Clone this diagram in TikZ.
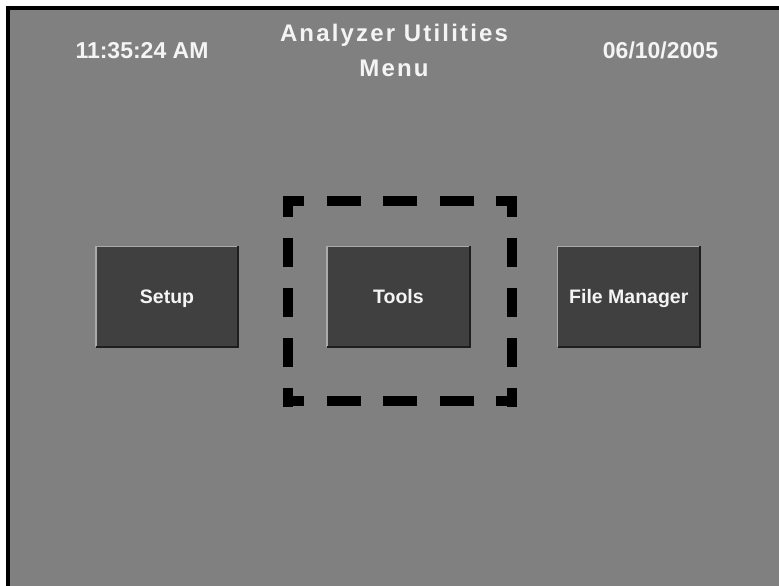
\documentclass[tikz,border=0pt]{standalone}
\usepackage{fontspec}
\setmainfont{Liberation Sans}
\newfontfamily\titlefont[LetterSpace=9]{Liberation Sans}
\usetikzlibrary{positioning}

\definecolor{screen}{HTML}{808080}
\definecolor{btnface}{HTML}{404040}
\definecolor{btnlight}{HTML}{ABABAB}
\definecolor{btndark}{HTML}{1E1E1E}
\definecolor{label}{HTML}{F4F4F4}

\begin{document}
\begin{tikzpicture}[x=1pt, y=-1pt, node distance=89pt,
  btn/.style={fill=btnface, minimum width=142pt, minimum height=100pt, inner sep=0pt,
    text=label, text height=14pt, text depth=1pt, font=\fontsize{19.5}{22}\selectfont\bfseries},
  clock/.style={text=label, anchor=base, inner sep=0pt, font=\fontsize{23}{26}\selectfont\bfseries},
  hrun/.style={line width=10pt, dash pattern=on 34pt off 22.6pt, dash phase=13pt},
  vrun/.style={line width=10pt, dash pattern=on 29.3pt off 20.7pt, dash phase=8.3pt}]
% screen frame
\fill[white] (0,0) rectangle (779,586);
\fill[black] (6,6) rectangle (779,586);
\fill[screen] (10,10) rectangle (779,586);
\useasboundingbox (0,0) rectangle (779,586);

% header
\node[clock] (time) at (142,59) {11:35:24 AM};
\node[clock] (date) at (660.5,59) {06/10/2005};
\node[text=label, align=center, anchor=base, inner sep=0pt,
  font=\fontsize{24}{35}\selectfont\titlefont\bfseries] (title) at (394,77)
  {Analyzer Utilities\\Menu};

% buttons
\node[btn] (setup) at (167,296.5) {Setup};
\node[btn, right=of setup] (tools) {Tools};
\node[btn, right=88pt of tools] (files) {File Manager};
\foreach \b in {setup,tools,files} {
  \draw[btnlight, line width=1.5pt] (\b.south west) |- (\b.north east);
  \draw[btndark, line width=2pt] (\b.south west) -| (\b.north east);
}

% dashed highlight round Tools
\draw[hrun] (283,201) -- (517.3,201);
\draw[hrun] (283,401.3) -- (517.3,401.3);
\draw[vrun] (288.3,196) -- (288.3,406.7);
\draw[vrun] (512.3,196) -- (512.3,406.7);
\end{tikzpicture}
\end{document}
